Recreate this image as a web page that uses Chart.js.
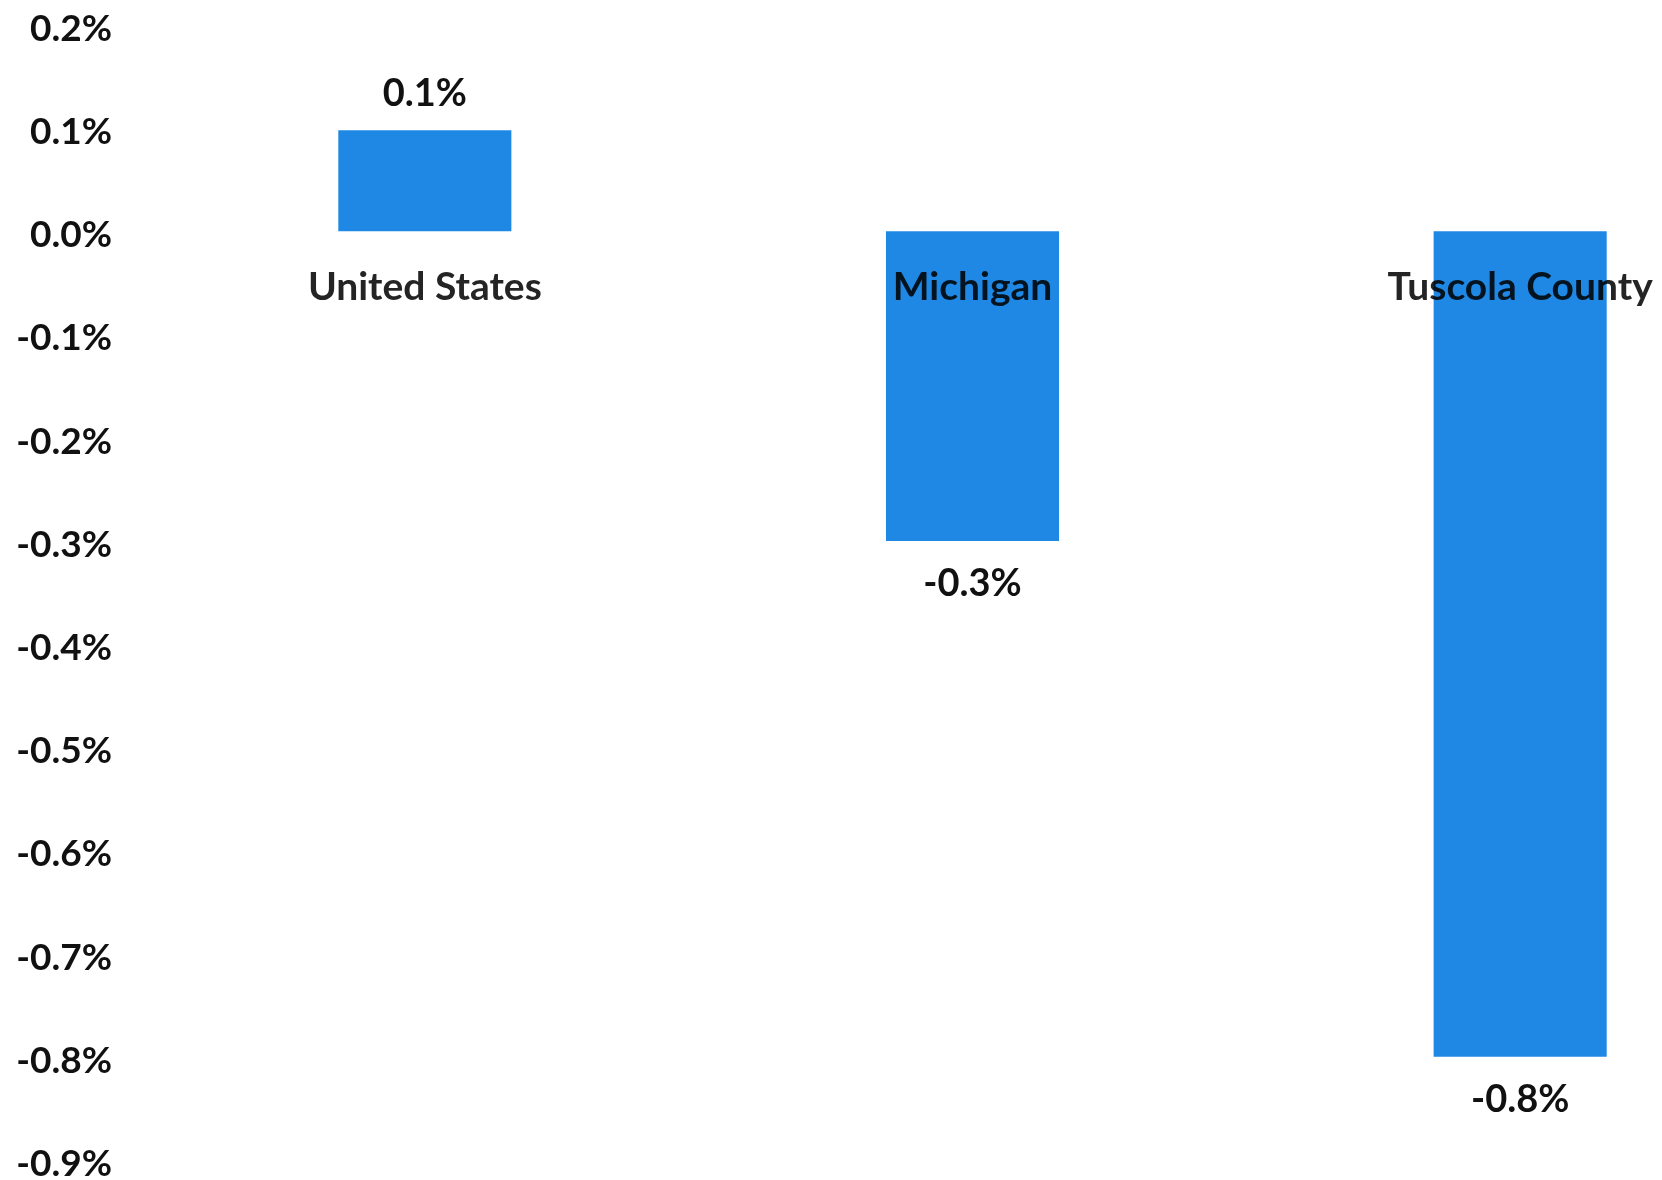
<!DOCTYPE html>
<html><head><meta charset="utf-8">
<script src="https://cdn.jsdelivr.net/npm/chart.js@4.4.0/dist/chart.umd.min.js"></script>
<style>
html,body{margin:0;padding:0;background:#fff;overflow:hidden;}
#wrap{position:relative;width:1800px;height:1180px;}
</style></head><body>
<div id="wrap"><canvas id="c"></canvas></div>
<script>
const categories = ['United States', 'Michigan', 'Tuscola County'];
const values = [0.098, -0.3, -0.8];
const yMin = -0.9, yMax = 0.2, yStep = 0.1;

const FONT = 'Lato';
const fmt = v => (Math.abs(v) < 1e-9 ? 0 : v).toFixed(1) + '%';

const valueLabels = {
  id: 'valueLabels',
  afterDatasetsDraw(chart) {
    const ctx = chart.ctx;
    const meta = chart.getDatasetMeta(0);
    ctx.save();
    ctx.font = 'bold 38px ' + FONT;
    ctx.fillStyle = '#111';
    ctx.textAlign = 'center';
    ctx.textBaseline = 'middle';
    meta.data.forEach((bar, i) => {
      const v = values[i];
      const y = v >= 0 ? bar.y - 36 : bar.y + 43;
      ctx.fillText(fmt(v), bar.x, y);
    });
    ctx.restore();
  }
};

new Chart(document.getElementById('c'), {
  type: 'bar',
  data: {
    labels: categories,
    datasets: [{
      data: values,
      backgroundColor: '#1f88e4',
      borderWidth: 0,
      categoryPercentage: 1,
      barPercentage: 0.316
    }]
  },
  options: {
    responsive: true,
    maintainAspectRatio: false,
    animation: false,
    layout: { padding: { top: 25, bottom: 20, right: 6, left: 0 } },
    plugins: { legend: { display: false }, tooltip: { enabled: false } },
    scales: {
      x: {
        position: { y: 0 },
        grid: { display: false },
        border: { display: false },
        ticks: {
          z: 1,
          padding: 25,
          color: 'rgba(0,0,0,0.86)',
          font: { family: FONT, size: 39, weight: 'bold' },
          maxRotation: 0,
          autoSkip: false
        }
      },
      y: {
        min: yMin, max: yMax,
        afterFit(scale) { scale.width = 151; scale.paddingTop = 0; scale.paddingBottom = 0; },
        grid: { display: false },
        border: { display: false },
        ticks: {
          stepSize: yStep,
          padding: 31,
          labelOffset: 4,
          color: '#111',
          font: { family: FONT, size: 37, weight: 'bold' },
          callback: v => fmt(v)
        }
      }
    }
  },
  plugins: [valueLabels]
});
</script>
</body></html>
